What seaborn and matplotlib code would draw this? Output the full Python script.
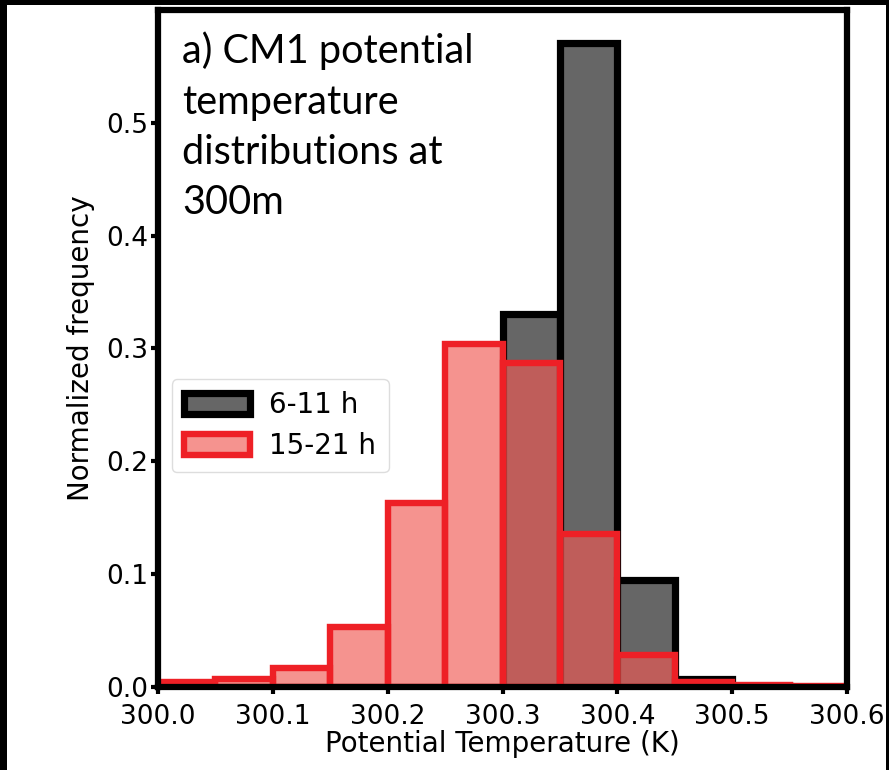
import numpy as np
import pandas as pd
import seaborn as sns
import matplotlib.pyplot as plt
from matplotlib.patches import Rectangle

# bin edges (K) and normalized frequencies
bin_left_early = [300.30, 300.35, 300.40, 300.45, 300.50]
freq_early = [0.331, 0.571, 0.095, 0.007, 0.001]

bin_left_late = [300.00, 300.05, 300.10, 300.15, 300.20, 300.25,
                 300.30, 300.35, 300.40, 300.45, 300.50, 300.55]
freq_late = [0.004, 0.007, 0.017, 0.053, 0.163, 0.304,
             0.287, 0.136, 0.028, 0.004, 0.002, 0.001]

edges = [round(300.0 + 0.05 * i, 2) for i in range(13)]
xticks = [300.0, 300.1, 300.2, 300.3, 300.4, 300.5, 300.6]
yticks = [0.0, 0.1, 0.2, 0.3, 0.4, 0.5]

sns.set_style("ticks")
plt.rcParams['font.family'] = ['DejaVu Sans']
plt.rcParams['text.color'] = 'black'
plt.rcParams['axes.labelcolor'] = 'black'
plt.rcParams['xtick.color'] = 'black'
plt.rcParams['ytick.color'] = 'black'

fig = plt.figure(figsize=(8.89, 7.70), dpi=100)
ax = fig.add_axes([158/889, 1-687/770, (847-158)/889, (687-10)/770])

# sample points at bin centres so they fall cleanly inside each bin
early = pd.DataFrame({'theta': np.array(bin_left_early) + 0.025, 'freq': freq_early})
late = pd.DataFrame({'theta': np.array(bin_left_late) + 0.025, 'freq': freq_late})

sns.histplot(data=early, x='theta', weights='freq', bins=edges, ax=ax,
             facecolor='#666666', edgecolor='black', linewidth=5.2,
             label='6-11 h')
sns.histplot(data=late, x='theta', weights='freq', bins=edges, ax=ax,
             facecolor=(0.94, 0.35, 0.33, 0.65), edgecolor='#ee2026', linewidth=4.6,
             label='15-21 h')

ax.set_xlim(300.0, 300.6)
ax.set_ylim(0, 0.6)
ax.set_xticks(xticks)
ax.set_xticklabels([f'{v:.1f}' for v in xticks])
ax.set_yticks(yticks)
ax.set_xlabel('Potential Temperature (K)', fontsize=20, labelpad=0)
ax.set_ylabel('Normalized frequency', fontsize=20, labelpad=8)
ax.tick_params(labelsize=19, width=3, length=5, direction='out', pad=2)
ax.tick_params(axis='x', pad=7)
for s in ax.spines.values():
    s.set_linewidth(4.5)
    s.set_color('black')

ax.text(0.035, 0.968, 'a) CM1 potential\ntemperature\ndistributions at\n300m',
        transform=ax.transAxes, ha='left', va='top', fontsize=28.5,
        family='Lato', linespacing=1.44)

leg = ax.legend(loc='upper left', bbox_to_anchor=(0.02, 0.455), fontsize=20,
                handlelength=2.35, handleheight=0.8, borderpad=0.45,
                labelspacing=0.45, handletextpad=0.7, framealpha=1,
                edgecolor='#dddddd', fancybox=True, borderaxespad=0)

# black frame edges of the original image
fig.add_artist(Rectangle((0, 0), 7/889, 1, transform=fig.transFigure,
                         facecolor='black', edgecolor='none'))
fig.add_artist(Rectangle((0, 1-5/770), 1, 5/770, transform=fig.transFigure,
                         facecolor='black', edgecolor='none'))
fig.add_artist(Rectangle((1-3/889, 0), 3/889, 1, transform=fig.transFigure,
                         facecolor='black', edgecolor='none'))

fig.savefig('out.png', dpi=100)
